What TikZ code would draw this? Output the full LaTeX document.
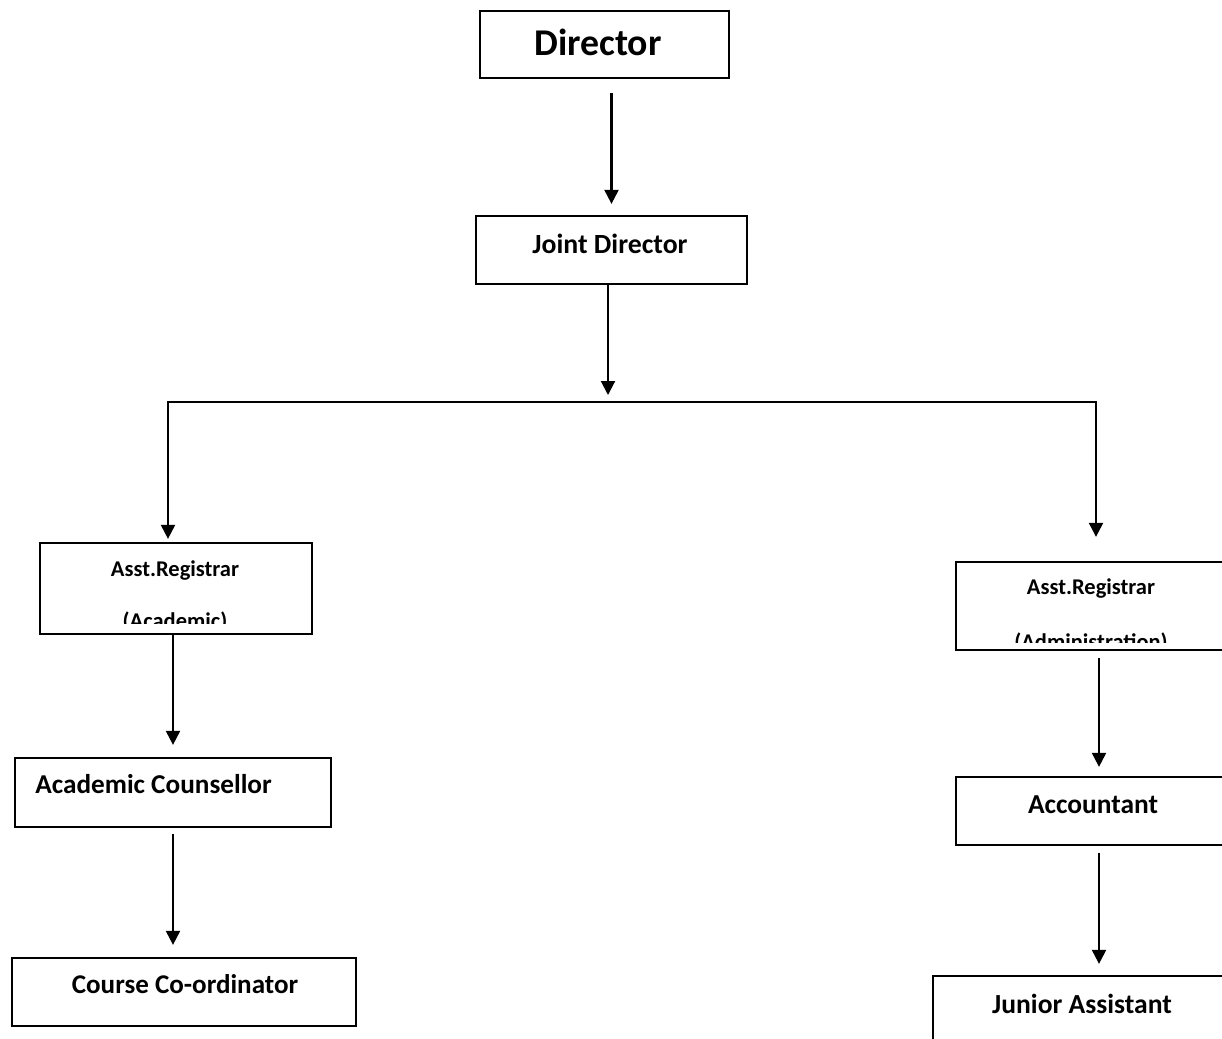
\documentclass[tikz,border=0pt]{standalone}
\usepackage{fontspec}
\setmainfont{Carlito}
\usepackage{tikz}
\usetikzlibrary{math,arrows.meta}

\begin{document}
\begin{tikzpicture}[x=0.02cm,y=-0.02cm,
	box/.style 2 args={draw,line width=1.3pt,minimum width=#1*0.02cm,minimum height=#2*0.02cm,inner sep=0pt},
	lbl/.style={font=\bfseries\fontsize{#1}{#1}\selectfont,inner sep=0pt,anchor=base},
	arr/.style={-{Triangle[length=0.28cm,width=0.28cm]},line width=1.2pt}]
\useasboundingbox (0,0) rectangle (1222,1038);
\tikzmath{
	\xl = 173;\xr = 1099;\ys = 402;
	{\node[box={249}{67}] (dir) at (604.5,44.5) {};};
	{\node[box={271}{68}] (jd) at (611.5,250) {};};
	{\node[box={272}{91}] (ara) at (176,588.5) {};};
	{\node[box={286}{88}] (arb) at (\xr,606) {};};
	{\node[box={316}{69}] (ac) at (\xl,792.5) {};};
	{\node[box={344}{68}] (cc) at (184,992) {};};
	{\node[box={286}{68}] (acc) at (\xr,811) {};};
	{\node[box={332}{68}] (ja) at (\xr,1010) {};};
	%
	{\path (dir) ++(-6.5,10.5) node[lbl=21.5] (tdir) {Director};};
	{\path (jd) ++(-1.5,3) node[lbl=15.8] (tjd) {Joint Director};};
	{\path (ara) ++(-1,-12.5) node[lbl=12.8] (tara) {Asst.Registrar};};
	{\path (arb) ++(-8,-12) node[lbl=12.8] (tarb) {Asst.Registrar};};
	{\path (ac) ++(-138,0.5) node[lbl=15.5,anchor=base west] (tac) {Academic Counsellor};};
	{\path (cc) ++(1,1) node[lbl=15.4] (tcc) {Course Co-ordinator};};
	{\path (acc) ++(-6,2) node[lbl=15.6] (tacc) {Accountant};};
	{\path (ja) ++(-17,3) node[lbl=15.7] (tja) {Junior Assistant};};
	%
	{\begin{scope}
		\clip (ara.west |- 0,0) rectangle (ara.east |- 0,623);
		\path (ara) ++(-1,39.5) node[lbl=12.8] (tara2) {(Academic)};
	\end{scope}};
	{\begin{scope}
		\clip (arb.west |- 0,0) rectangle (arb.east |- 0,642);
		\path (arb) ++(-8,43) node[lbl=12.8] (tarb2) {(Administration)};
	\end{scope}};
	%
	{\coordinate (sp) at (608,\ys);};
	{\coordinate (spl) at (168,\ys);};
	{\coordinate (spr) at (1096,\ys);};
	{\draw[arr,shorten <=0.28cm,shorten >=0.22cm] (dir.south -| jd) -- (jd.north);};
	{\draw[arr,shorten >=0.14cm] (jd.south -| sp) -- (sp);};
	{\draw[arr,shorten >=0.06cm] (sp) -- (spl) -- (spl |- ara.north);};
	{\draw[arr,shorten >=0.48cm] (sp) -- (spr) -- (spr |- arb.north);};
	{\draw[arr,shorten >=0.24cm] (ara.south -| ac) -- (ac.north);};
	{\draw[arr,shorten <=0.12cm,shorten >=0.24cm] (ac.south) -- (ac.south |- cc.north);};
	{\draw[arr,shorten <=0.14cm,shorten >=0.18cm] (arb.south) -- (acc.north);};
	{\draw[arr,shorten <=0.14cm,shorten >=0.22cm] (acc.south) -- (ja.north);};
};
\end{tikzpicture}
\end{document}
